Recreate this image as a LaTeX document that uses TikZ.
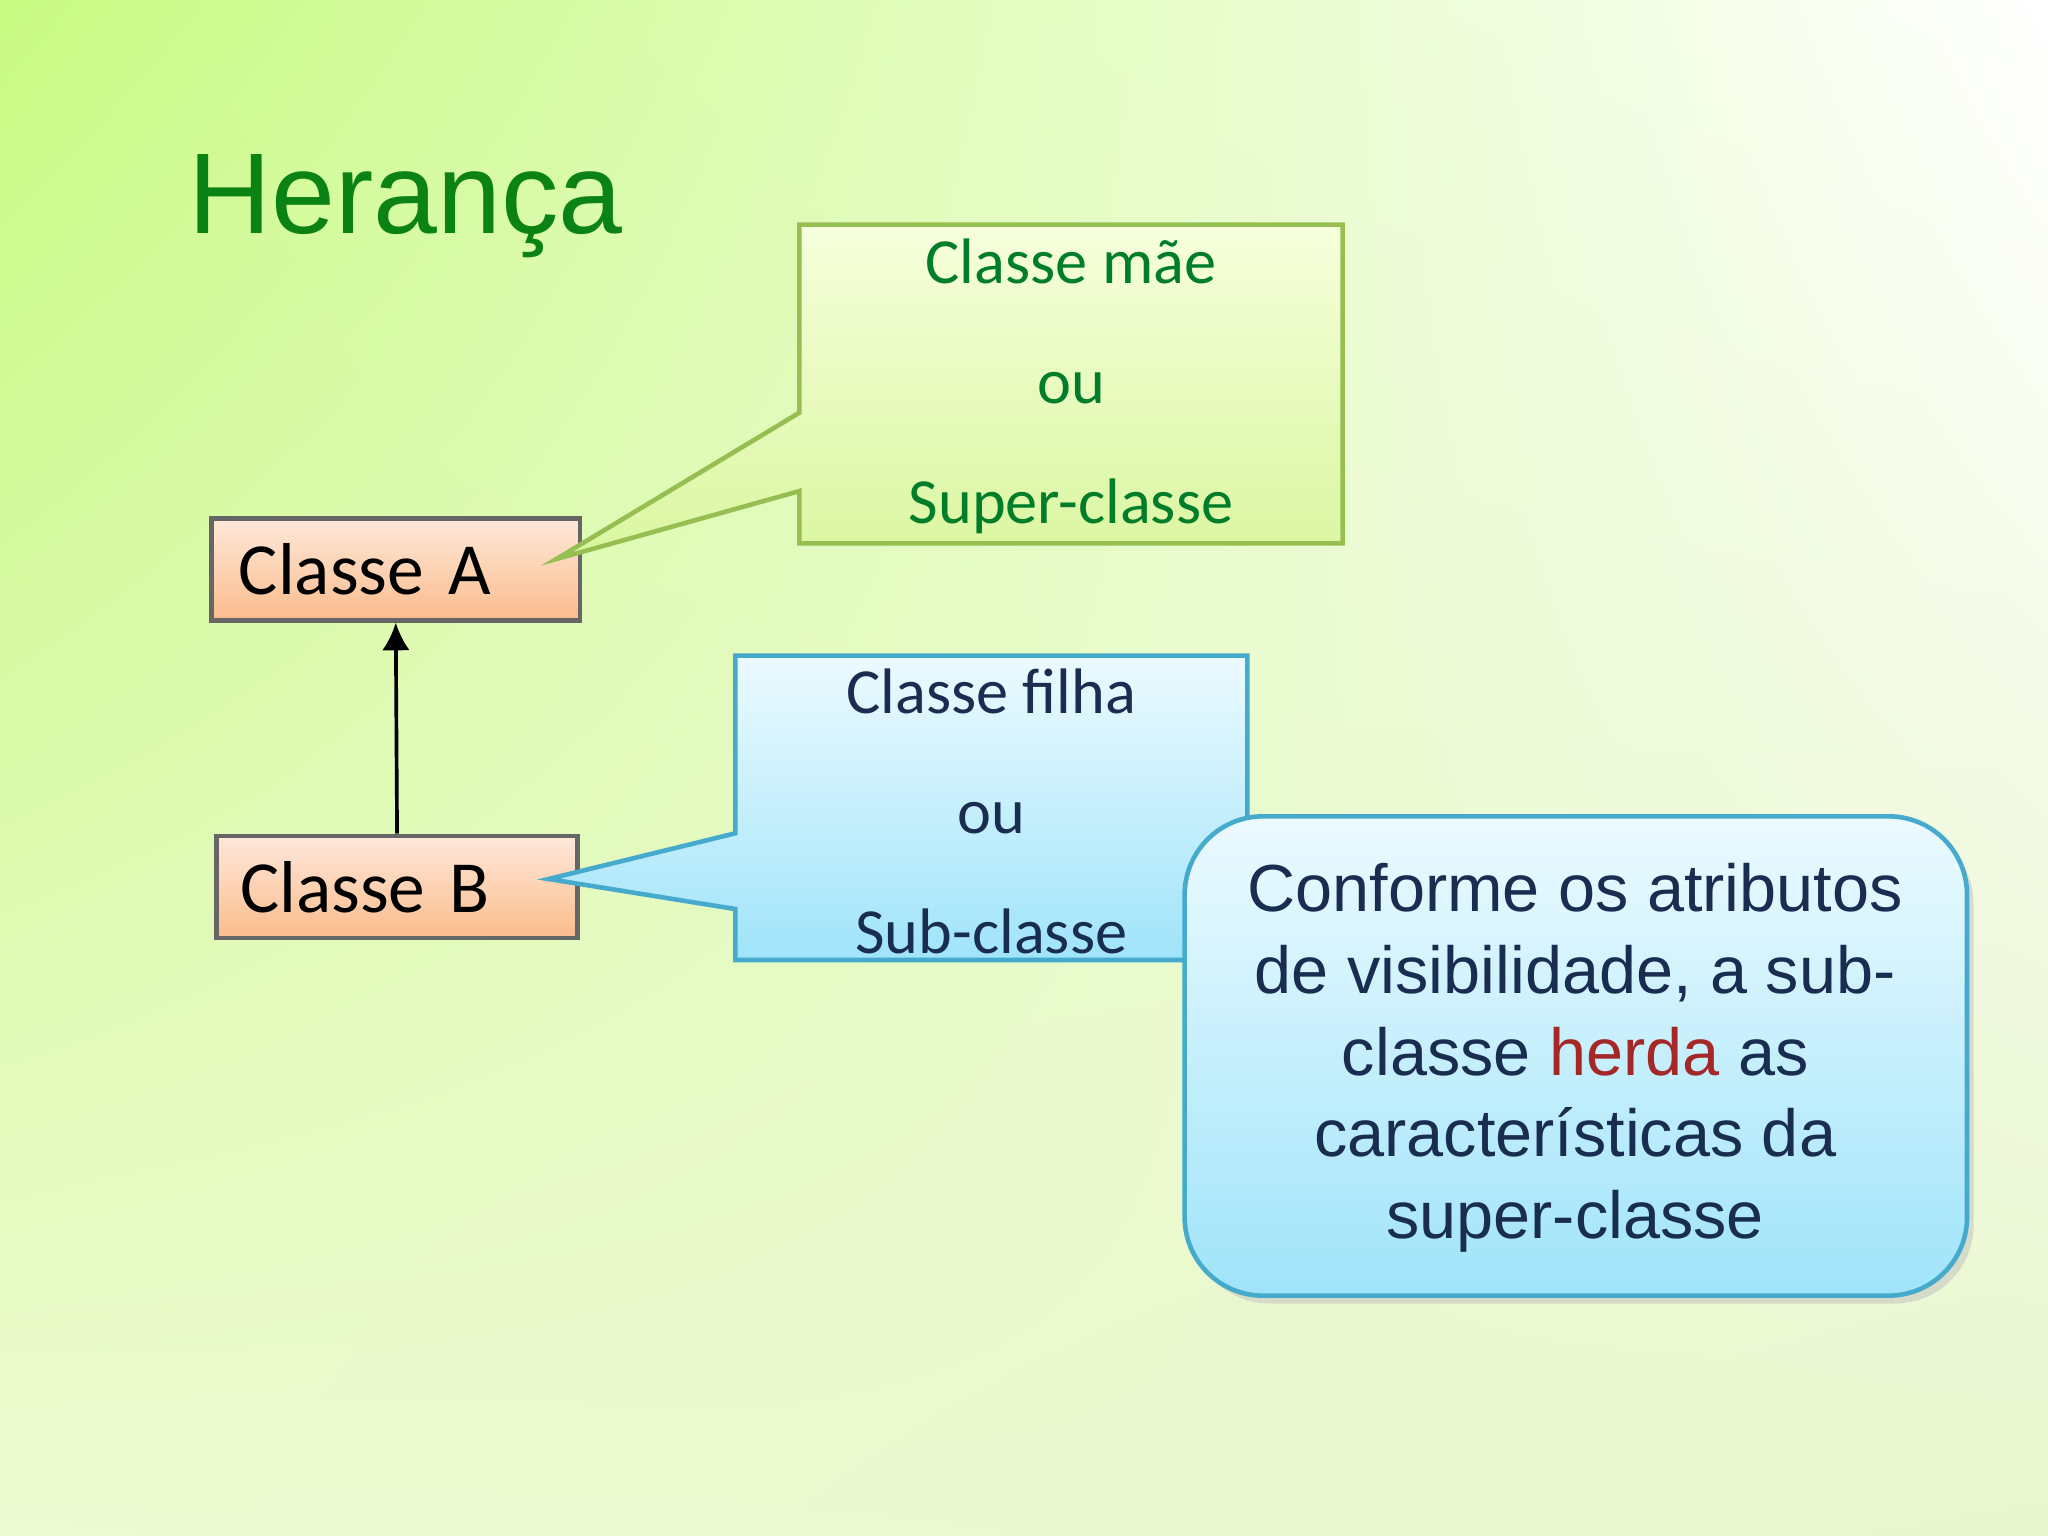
\documentclass[tikz,border=0pt]{standalone}
\usepackage{fontspec}
\usetikzlibrary{arrows.meta,shadings}
\setmainfont{Liberation Sans}
\newfontfamily\calfont{Carlito}
\definecolor{bgA}{RGB}{200,250,130}
\definecolor{bgB}{RGB}{255,255,255}
\definecolor{bgC}{RGB}{238,250,210}
\definecolor{bgD}{RGB}{232,246,205}
\definecolor{orT}{RGB}{255,232,218}
\definecolor{orB}{RGB}{250,188,140}
\definecolor{grT}{RGB}{246,255,220}
\definecolor{grB}{RGB}{218,246,160}
\definecolor{grD}{RGB}{150,190,80}
\definecolor{grTxt}{RGB}{0,125,40}
\definecolor{blT}{RGB}{236,250,255}
\definecolor{blB}{RGB}{160,228,250}
\definecolor{blD}{RGB}{70,170,205}
\definecolor{navy}{RGB}{25,45,80}
\definecolor{herda}{RGB}{165,40,40}
\definecolor{title}{RGB}{10,130,20}
\tikzset{cls/.style={draw=gray!80!black,line width=1pt,top color=orT,bottom color=orB,minimum width=2.8cm,minimum height=0.78cm,inner sep=0pt,font=\calfont\fontsize{16}{19}\selectfont},
lbl/.style={font=\calfont\fontsize{14}{17}\selectfont,align=center}}
\begin{document}
\begin{tikzpicture}[x=0.01cm,y=-0.01cm]
\shade[upper left=bgA,upper right=bgB,lower left=bgC,lower right=bgD] (0,0) rectangle (1568,1176);
\useasboundingbox (0,0) rectangle (1568,1176);
\node[anchor=west,text=title,font=\fontsize{25}{30}\selectfont] (t) at (132,158) {Herança};
% class boxes
\node[cls,minimum width=2.82cm,text width=2.4cm] (a) at (303,436) {Classe A};
\node[cls,minimum width=2.76cm,text width=2.4cm] (b) at (304,679) {Classe B};
\draw[-{Latex[length=6pt,width=6pt]},line width=0.8pt] (b.north) -- (a.south);
% green callout
\shade[draw=grD,line width=1pt,top color=grT,bottom color=grB] (612,172) -- (1028,172) -- (1028,416) -- (612,416) -- (612,376) -- (426,428) -- (612,316) -- cycle;
\node[lbl,text=grTxt] (g) at (820,296) {Classe mãe\\[0.32cm]ou\\[0.32cm]Super-classe};
% blue callout
\shade[draw=blD,line width=1pt,top color=blT,bottom color=blB] (563,502) -- (955,502) -- (955,735) -- (563,735) -- (563,696) -- (420,673) -- (563,638) -- cycle;
\node[lbl,text=navy] (f) at (759,621) {Classe filha\\[0.32cm]ou\\[0.32cm]Sub-classe};
% rounded box
\fill[gray!50,opacity=0.5,rounded corners=0.6cm] (912,632) rectangle (1511,998);
\shade[draw=blD,line width=1pt,top color=blT,bottom color=blB,rounded corners=0.6cm] (907,625) rectangle (1506,992);
\node[align=center,text=navy,font=\fontsize{14.5}{17.8}\selectfont] (c) at (1206,810) {Conforme os atributos\\de visibilidade, a sub-\\classe \textcolor{herda}{herda} as\\características da\\super-classe};
\end{tikzpicture}
\end{document}
